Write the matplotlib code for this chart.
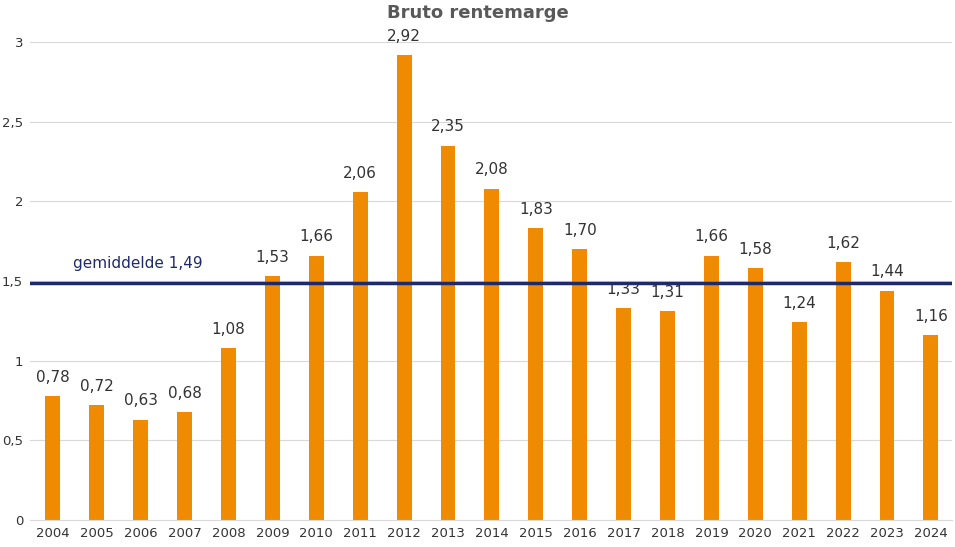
import matplotlib
matplotlib.use("Agg")
import matplotlib.pyplot as plt

years = [str(y) for y in range(2004, 2025)]
values = [0.78, 0.72, 0.63, 0.68, 1.08, 1.53, 1.66, 2.06, 2.92, 2.35, 2.08,
          1.83, 1.70, 1.33, 1.31, 1.66, 1.58, 1.24, 1.62, 1.44, 1.16]
average = 1.49
yticks = [0, 0.5, 1, 1.5, 2, 2.5, 3]
ytick_labels = ["0", "0,5", "1", "1,5", "2", "2,5", "3"]

def nl(v):
    return f"{v:.2f}".replace(".", ",")

fig = plt.figure(figsize=(9.55, 5.47), dpi=100)
ax = fig.add_axes([30 / 955, 1 - 520 / 547, 922 / 955, 478 / 547])

x = range(len(years))
ax.bar(x, values, width=0.34, color="#F08A00", zorder=2)
for i, v in zip(x, values):
    ax.text(i, v + 0.07, nl(v), ha="center", va="bottom", fontsize=11, color="#333333")

ax.axhline(average, color="#1F2A6B", linewidth=2.5, zorder=3)
ax.text(0.45, average + 0.07, f"gemiddelde {nl(average)}", color="#1F2A6B",
        fontsize=11, ha="left", va="bottom")

ax.set_xlim(-0.52, 20.48)
ax.set_ylim(0, 3)
ax.set_xticks(list(x))
ax.set_xticklabels(years, fontsize=9.5, color="#333333")
ax.set_yticks(yticks)
ax.set_yticklabels(ytick_labels, fontsize=9.5, color="#333333")
ax.tick_params(length=0, pad=5)
ax.yaxis.grid(True, color="#D9D9D9", linewidth=0.8, zorder=0)
for s in ["top", "right", "left"]:
    ax.spines[s].set_visible(False)
ax.spines["bottom"].set_color("#D9D9D9")

fig.text(0.5, 1 - 13 / 547, "Bruto rentemarge", ha="center", va="center",
         fontsize=13, fontweight="bold", color="#595959")

fig.savefig("out.png", dpi=100)
